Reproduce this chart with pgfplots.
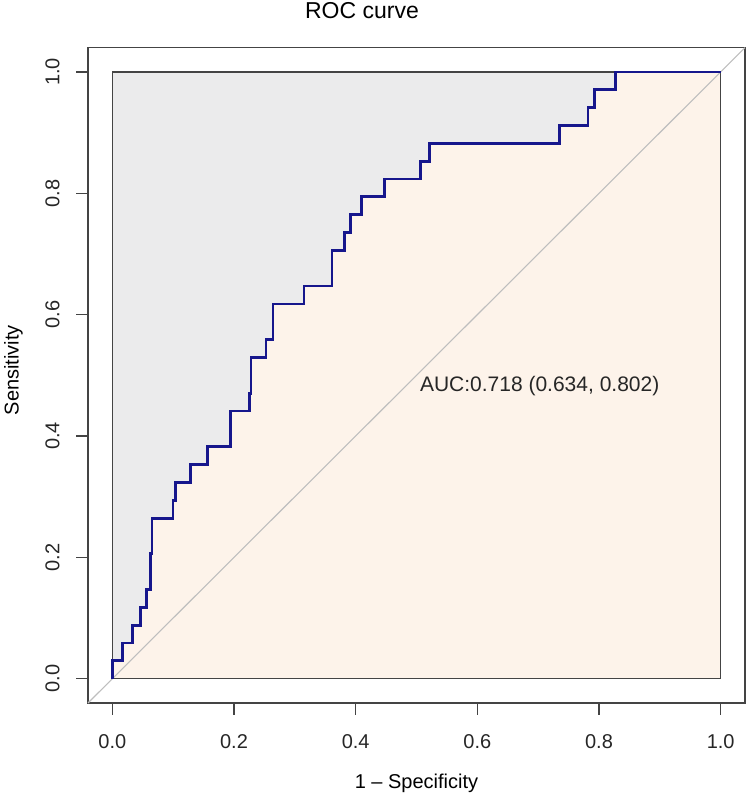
\documentclass[border=0pt]{standalone}
\usepackage{pgfplots}
\pgfplotsset{compat=1.18}
\usepackage{pgfplotstable}
\usepackage{fontspec}
\setmainfont{Liberation Sans}
\definecolor{boxgray}{RGB}{68,68,68}
\definecolor{upfill}{RGB}{235,235,236}
\definecolor{lowfill}{RGB}{253,243,234}
\definecolor{roccol}{RGB}{22,22,140}
\definecolor{diag}{RGB}{190,190,190}

\pgfplotstableread{
x y
0 0
0 0.0294
0.0164 0.0294
0.0164 0.0588
0.0329 0.0588
0.0329 0.0882
0.0460 0.0882
0.0460 0.1176
0.0559 0.1176
0.0559 0.1471
0.0625 0.1471
0.0625 0.2059
0.0651 0.2059
0.0651 0.2647
0.0997 0.2647
0.0997 0.2941
0.1040 0.2941
0.1040 0.3235
0.1280 0.3235
0.1280 0.3529
0.1560 0.3529
0.1560 0.3824
0.1940 0.3824
0.1940 0.4412
0.2257 0.4412
0.2257 0.4706
0.2280 0.4706
0.2280 0.5294
0.2527 0.5294
0.2527 0.5588
0.2640 0.5588
0.2640 0.6176
0.3150 0.6176
0.3150 0.6471
0.3610 0.6471
0.3610 0.7059
0.3820 0.7059
0.3820 0.7353
0.3910 0.7353
0.3910 0.7647
0.4100 0.7647
0.4100 0.7941
0.4470 0.7941
0.4470 0.8235
0.5060 0.8235
0.5060 0.8529
0.5220 0.8529
0.5220 0.8824
0.7350 0.8824
0.7350 0.9118
0.7820 0.9118
0.7820 0.9412
0.7920 0.9412
0.7920 0.9706
0.8270 0.9706
0.8270 1
1 1
}\roc

\begin{document}
\begin{tikzpicture}[x=1bp,y=1bp]
\useasboundingbox (0,0) rectangle (750,799);
\begin{axis}[
  at={(88bp,96bp)}, anchor=south west,
  scale only axis, width=657bp, height=655.3bp,
  xmin=-0.04, xmax=1.04, ymin=-0.04, ymax=1.04,
  xtick={0,0.2,0.4,0.6,0.8,1}, ytick={0,0.2,0.4,0.6,0.8,1},
  xticklabels={0.0,0.2,0.4,0.6,0.8,1.0},
  yticklabels={0.0,0.2,0.4,0.6,0.8,1.0},
  tick pos=left, tick align=outside, major tick length=12bp,
  axis line style={boxgray, line width=1.3bp},
  tick style={boxgray, line width=1.3bp},
  /pgf/number format/assume math mode=true,
  ticklabel style={font=\fontsize{20bp}{24bp}\selectfont, text=black!85},
  xticklabel style={anchor=north, yshift=-16bp},
  yticklabel style={rotate=90, anchor=south, yshift=13bp},
  title={ROC curve},
  title style={at={(axis description cs:0.417,1.047)}, anchor=center, font=\fontsize{23bp}{27bp}\selectfont},
  xlabel={1 – Specificity},
  xlabel style={at={(axis description cs:0.5,-0.122)}, anchor=center, font=\fontsize{20bp}{24bp}\selectfont},
  ylabel={Sensitivity},
  ylabel style={at={(axis description cs:-0.1134,0.508)}, anchor=center, rotate=0, font=\fontsize{20bp}{24bp}\selectfont},
  clip=false,
]
\addplot[fill=upfill, draw=none] coordinates {(0,1) (1,1)} \closedcycle;
\addplot[fill=lowfill, draw=none] table[x=x,y=y] {\roc} \closedcycle;
\addplot[draw=boxgray, line width=1.2bp] coordinates {(0,0) (1,0) (1,1) (0,1) (0,0)};
\addplot[draw=diag, line width=1.1bp] coordinates {(-0.04,-0.04) (1.04,1.04)};
\addplot[draw=roccol, line width=2.8bp, line join=miter] table[x=x,y=y] {\roc};
\node[anchor=west, font=\fontsize{21bp}{25bp}\selectfont, text=black!85] at (axis cs:0.5,0.482) {AUC:0.718 (0.634, 0.802)};
\end{axis}
\end{tikzpicture}
\end{document}
